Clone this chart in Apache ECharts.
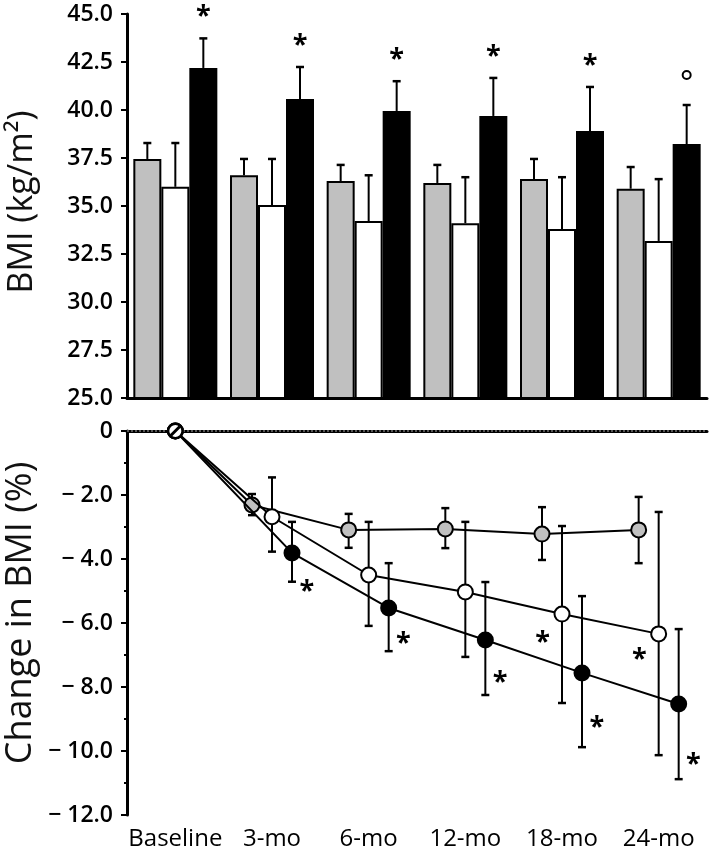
<!DOCTYPE html>
<html><head><meta charset="utf-8">
<script src="https://cdn.jsdelivr.net/npm/echarts@6/dist/echarts.min.js"></script>
<style>html,body{margin:0;padding:0;background:#fff}#c{width:709px;height:856px}</style>
</head><body><div id="c"></div>
<script>
// ---------- data ----------
const categories = ['Baseline', '3-mo', '6-mo', '12-mo', '18-mo', '24-mo'];

// Top panel: BMI (kg/m2), bar mean and top of error bar
const grayBMI     = [37.45, 36.6, 36.3, 36.2, 36.4, 35.9];
const grayBMIHi   = [38.28, 37.45, 37.14, 37.14, 37.45, 37.03];
const whiteBMI    = [36.0, 35.05, 34.22, 34.1, 33.8, 33.18];
const whiteBMIHi  = [38.28, 37.45, 36.6, 36.5, 36.5, 36.4];
const blackBMI    = [42.19, 40.57, 39.95, 39.69, 38.9, 38.23];
const blackBMIHi  = [43.73, 42.24, 41.5, 41.67, 41.2, 40.26];
const topMarks    = ['*', '*', '*', '*', '*', 'o'];

// Bottom panel: change in BMI (%), mean, lower and upper error limits
const grayChange    = [0, -2.31, -3.09, -3.06, -3.22, -3.09];
const grayChangeLo  = [0, -2.63, -3.65, -3.66, -4.03, -4.13];
const grayChangeHi  = [0, -1.97, -2.59, -2.41, -2.38, -2.06];
const whiteChange   = [0, -2.68, -4.5, -5.03, -5.72, -6.34];
const whiteChangeLo = [0, -3.77, -6.09, -7.06, -8.5, -10.13];
const whiteChangeHi = [0, -1.45, -2.84, -2.84, -2.97, -2.53];
const blackChange   = [0, -3.81, -5.53, -6.53, -7.56, -8.53];
const blackChangeLo = [0, -4.71, -6.88, -8.25, -9.88, -10.88];
const blackChangeHi = [0, -2.84, -4.13, -4.72, -5.16, -6.19];
const blackStarY    = [null, -4.9, -6.5, -7.72, -9.13, -10.28];
const whiteStarY    = [null, null, null, null, -6.47, -7.0];

// ---------- styling ----------
const FONT = 'Open Sans';
const GRAY = '#c0c0c0';
const BAR_W = 28;
const groupShift = { gray: -0.207, white: 0, black: 0.207 }; // bottom-panel dodge (category units)

const chart = echarts.init(document.getElementById('c'), null, { renderer: 'canvas' });

function xs(i, key) { return i === 0 ? 0 : i + groupShift[key]; }

// top error bars
const topErrData = [];
[[grayBMI, grayBMIHi], [whiteBMI, whiteBMIHi], [blackBMI, blackBMIHi]].forEach((pair, g) => {
  pair[0].forEach((v, i) => topErrData.push([i, pair[1][i], v, g]));
});
const barOffsets = [-BAR_W, 0, BAR_W];

function renderTopErr(params, api) {
  const i = api.value(0), hi = api.value(1), v = api.value(2), g = api.value(3);
  const pHi = api.coord([i, hi]);
  const pV = api.coord([i, v]);
  const x = pHi[0] + barOffsets[g];
  return {
    type: 'group',
    children: [
      { type: 'line', shape: { x1: x, y1: pV[1], x2: x, y2: pHi[1] }, style: { stroke: '#000', lineWidth: 2 } },
      { type: 'line', shape: { x1: x - 4, y1: pHi[1], x2: x + 4, y2: pHi[1] }, style: { stroke: '#000', lineWidth: 2.5 } }
    ]
  };
}

function renderTopMarks(params, api) {
  const i = api.value(0), hi = api.value(1);
  const p = api.coord([i, hi]);
  const x = p[0] + barOffsets[2];
  const m = topMarks[params.dataIndex];
  if (m === 'o') {
    return { type: 'circle', shape: { cx: x, cy: p[1] - 30, r: 4 }, style: { fill: '#fff', stroke: '#000', lineWidth: 2 } };
  }
  return { type: 'text', x: x, y: p[1] - 22,
    style: { text: m, fontSize: 27, fontWeight: 'bold', fontFamily: FONT, fill: '#000', align: 'center', verticalAlign: 'middle' } };
}

// bottom error bars
const botErrData = [];
[['gray', grayChangeLo, grayChangeHi], ['white', whiteChangeLo, whiteChangeHi], ['black', blackChangeLo, blackChangeHi]]
  .forEach(([key, lo, hi]) => {
    lo.forEach((l, i) => { if (i > 0) botErrData.push([xs(i, key), l, hi[i]]); });
  });

function renderBotErr(params, api) {
  const x = api.value(0);
  const pLo = api.coord([x, api.value(1)]);
  const pHi = api.coord([x, api.value(2)]);
  const cx = pLo[0];
  return {
    type: 'group',
    children: [
      { type: 'line', shape: { x1: cx, y1: pLo[1], x2: cx, y2: pHi[1] }, style: { stroke: '#000', lineWidth: 2 } },
      { type: 'line', shape: { x1: cx - 4, y1: pLo[1], x2: cx + 4, y2: pLo[1] }, style: { stroke: '#000', lineWidth: 2.5 } },
      { type: 'line', shape: { x1: cx - 4, y1: pHi[1], x2: cx + 4, y2: pHi[1] }, style: { stroke: '#000', lineWidth: 2.5 } }
    ]
  };
}

const starData = [];
blackStarY.forEach((y, i) => { if (y !== null) starData.push([i + 0.36, y]); });
whiteStarY.forEach((y, i) => { if (y !== null) starData.push([i - 0.2, y]); });

function renderStar(params, api) {
  const p = api.coord([api.value(0), api.value(1)]);
  return { type: 'text', x: p[0], y: p[1] + 4,
    style: { text: '*', fontSize: 27, fontWeight: 'bold', fontFamily: FONT, fill: '#000', align: 'center', verticalAlign: 'middle' } };
}

function renderBaseline(params, api) {
  const p = api.coord([api.value(0), api.value(1)]);
  return {
    type: 'group',
    children: [
      { type: 'circle', shape: { cx: p[0], cy: p[1], r: 7 }, style: { fill: '#fff', stroke: '#000', lineWidth: 2 } },
      { type: 'line', shape: { x1: p[0] - 4.5, y1: p[1] + 4.5, x2: p[0] + 4.5, y2: p[1] - 4.5 }, style: { stroke: '#000', lineWidth: 3 } }
    ]
  };
}

function lineSeries(name, key, vals, fill, z) {
  return {
    name, type: 'line', xAxisIndex: 2, yAxisIndex: 1,
    data: vals.map((v, i) => [xs(i, key), v]),
    symbol: 'circle', symbolSize: 15,
    itemStyle: { color: fill, borderColor: '#000', borderWidth: 2 },
    lineStyle: { color: '#000', width: 2 },
    z: z, animation: false
  };
}

const axisLabelStyle = { fontFamily: FONT, color: '#000' };
const yLab = { fontSize: 23, fontWeight: 600, margin: 14 };

const option = {
  animation: false,
  backgroundColor: '#fff',
  grid: [
    { left: 127, top: 14, width: 580, height: 384 },
    { left: 127, top: 431, width: 580, height: 384 }
  ],
  xAxis: [
    { type: 'category', gridIndex: 0, data: categories,
      axisLine: { lineStyle: { color: '#000', width: 3 } },
      axisTick: { alignWithLabel: true, length: 4, lineStyle: { color: '#000', width: 2 } },
      axisLabel: { show: false }, splitLine: { show: false } },
    { type: 'category', gridIndex: 1, data: categories,
      axisLine: { lineStyle: { color: '#000', width: 3 } },
      axisTick: { alignWithLabel: true, length: 4, lineStyle: { color: '#000', width: 2 } },
      axisLabel: Object.assign({ fontSize: 24, margin: 12, interval: 0 }, axisLabelStyle), splitLine: { show: false } },
    { type: 'value', gridIndex: 1, min: -0.5, max: 5.5, show: false }
  ],
  yAxis: [
    { type: 'value', gridIndex: 0, min: 25, max: 45, interval: 2.5,
      axisLine: { show: true, onZero: false, lineStyle: { color: '#000', width: 3 } },
      axisTick: { show: true, length: 6, lineStyle: { color: '#000', width: 2 } },
      axisLabel: Object.assign({ formatter: v => v.toFixed(1) }, yLab, axisLabelStyle),
      splitLine: { show: false } },
    { type: 'value', gridIndex: 1, min: -12, max: 0, interval: 2,
      axisLine: { show: true, onZero: false, lineStyle: { color: '#000', width: 3 } },
      axisTick: { show: true, length: 6, lineStyle: { color: '#000', width: 2 } },
      minorTick: { show: true, splitNumber: 2, length: 3, lineStyle: { color: '#000', width: 2 } },
      axisLabel: Object.assign({
        formatter: v => v === 0 ? '0' : '\u2212\u2005' + Math.abs(v).toFixed(1) }, yLab, axisLabelStyle),
      splitLine: { show: false } }
  ],
  graphic: [
    { type: 'text', x: 22, y: 202, rotation: Math.PI / 2, z: 10,
      style: { text: 'BMI (kg/m\u00b2)', fontSize: 34, fontFamily: FONT, fill: '#111', align: 'center', verticalAlign: 'middle' } },
    { type: 'text', x: 21, y: 613, rotation: Math.PI / 2, z: 10,
      style: { text: 'Change in BMI (%)', fontSize: 36, fontFamily: FONT, fill: '#111', align: 'center', verticalAlign: 'middle' } }
  ],
  series: [
    { name: 'gray', type: 'bar', xAxisIndex: 0, yAxisIndex: 0, data: grayBMI, barWidth: BAR_W, barGap: '0%',
      itemStyle: { color: GRAY, borderColor: '#000', borderWidth: 2 }, z: 2 },
    { name: 'white', type: 'bar', xAxisIndex: 0, yAxisIndex: 0, data: whiteBMI, barWidth: BAR_W, barGap: '0%',
      itemStyle: { color: '#fff', borderColor: '#000', borderWidth: 2 }, z: 2 },
    { name: 'black', type: 'bar', xAxisIndex: 0, yAxisIndex: 0, data: blackBMI, barWidth: BAR_W, barGap: '0%',
      itemStyle: { color: '#000', borderColor: '#000', borderWidth: 2 }, z: 2 },
    { type: 'custom', xAxisIndex: 0, yAxisIndex: 0, data: topErrData, renderItem: renderTopErr, z: 3 },
    { type: 'custom', xAxisIndex: 0, yAxisIndex: 0, data: blackBMI.map((v, i) => [i, blackBMIHi[i]]), renderItem: renderTopMarks, z: 3 },

    { type: 'custom', xAxisIndex: 2, yAxisIndex: 1, data: botErrData, renderItem: renderBotErr, z: 1 },
    Object.assign(lineSeries('gray', 'gray', grayChange, GRAY, 3), {
      markLine: { silent: true, symbol: 'none', label: { show: false },
        lineStyle: { type: [2, 2], color: '#555', width: 2 }, data: [{ yAxis: 0 }] } }),
    lineSeries('white', 'white', whiteChange, '#fff', 4),
    lineSeries('black', 'black', blackChange, '#000', 5),
    { type: 'custom', xAxisIndex: 2, yAxisIndex: 1, data: starData, renderItem: renderStar, z: 6 },
    { type: 'custom', xAxisIndex: 2, yAxisIndex: 1, data: [[0, 0]], renderItem: renderBaseline, z: 8 }
  ]
};
chart.setOption(option);
</script>
</body></html>
